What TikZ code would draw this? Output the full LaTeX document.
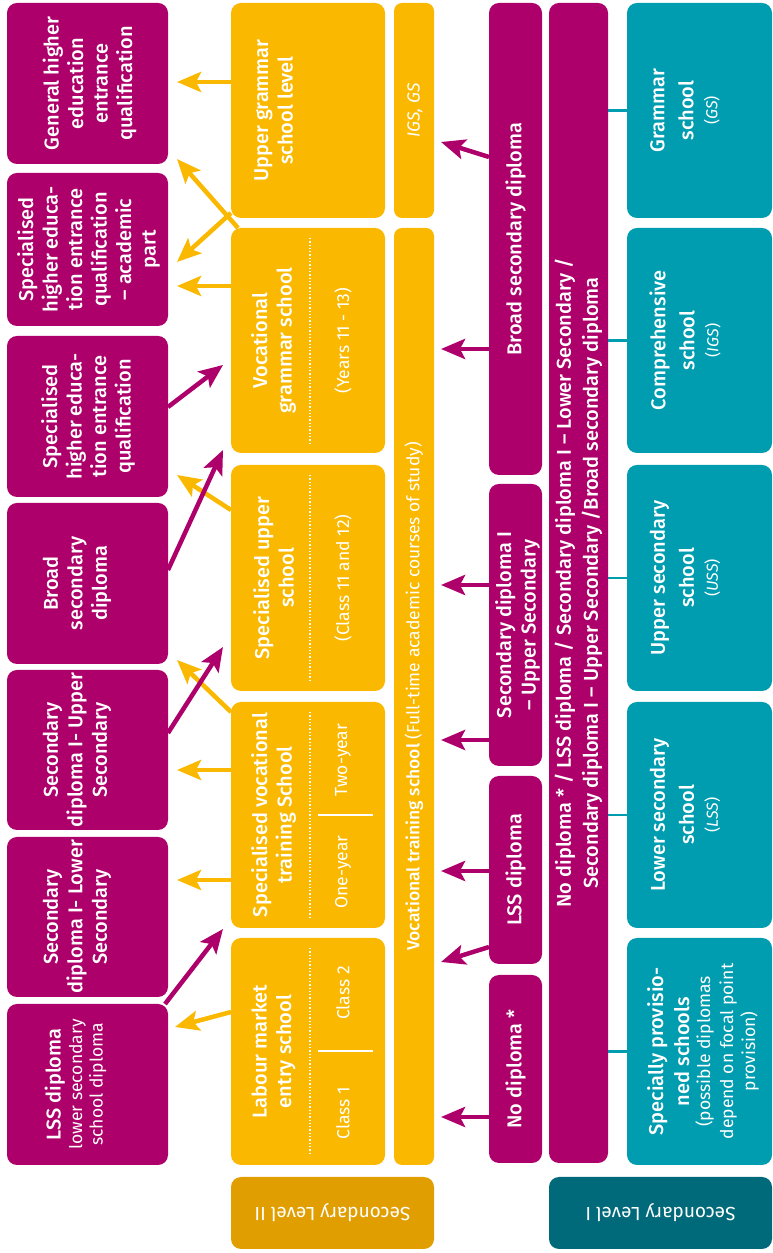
\documentclass[tikz,border=0pt]{standalone}
\usepackage{fontspec}
\setmainfont{Fira Sans}
\IfFontExistsTF{Fira Sans Medium}{\newfontfamily\medf{Fira Sans Medium}}{\newfontfamily\medf{Fira Sans}[FakeBold=1.2]}
\usetikzlibrary{arrows.meta,calc}
\definecolor{pur}{HTML}{AD006A}
\definecolor{yel}{HTML}{FAB900}
\definecolor{tea}{HTML}{009DB1}
\definecolor{dtea}{HTML}{00697A}
\definecolor{dyel}{HTML}{E19E00}
\begin{document}
\begin{tikzpicture}[x=1pt,y=1pt,
 box/.style={draw=none, rounded corners=10pt, inner sep=0pt, outer sep=0pt},
 pbox/.style={box, fill=pur},
 ybox/.style={box, fill=yel},
 tbox/.style={box, fill=tea},
 thinbox/.style={box, rounded corners=8pt},
 txt/.style={text=white, rotate=90, align=center, inner sep=0pt, font=\medf\fontsize{20}{24.5}\selectfont},
 sub/.style={text=white, rotate=90, align=center, inner sep=0pt, font=\rmfamily\fontsize{17.5}{21}\selectfont},
 foot/.style={text=white, rotate=180, inner sep=0pt, font=\rmfamily\fontsize{19}{22}\selectfont},
 tip/.style={-{Stealth[length=24pt,width=20pt,inset=5pt]}},
 parr/.style={draw=pur, line width=4.5pt, tip},
 yarr/.style={draw=yel, line width=4.5pt, tip},
 dotl/.style={white, line width=1.3pt, dotted},
 sepl/.style={white, line width=2pt},
 tlink/.style={draw=tea, line width=2.5pt},
]
\useasboundingbox (0,0) rectangle (773,1253);

% outcome boxes
\node[pbox,minimum width=161pt,minimum height=161pt] (o1) at (87.5,1169.5) {};
\node[pbox,minimum width=161pt,minimum height=153pt] (o2) at (87.5,1003.5) {};
\node[pbox,minimum width=161pt,minimum height=161pt] (o3) at (87.5,836.5) {};
\node[pbox,minimum width=161pt,minimum height=161pt] (o4) at (87.5,669.5) {};
\node[pbox,minimum width=161pt,minimum height=160pt] (o5) at (87.5,503) {};
\node[pbox,minimum width=161pt,minimum height=160pt] (o6) at (87.5,336) {};
\node[pbox,minimum width=161pt,minimum height=161pt] (o7) at (87.5,168.5) {};

% yellow school boxes
\node[ybox,minimum width=154pt,minimum height=215pt] (y1) at (308,1142.5) {};
\node[ybox,minimum width=154pt,minimum height=225pt] (y2) at (308,912.5) {};
\node[ybox,minimum width=154pt,minimum height=226pt] (y3) at (308,675) {};
\node[ybox,minimum width=154pt,minimum height=226pt] (y4) at (308,438) {};
\node[ybox,minimum width=154pt,minimum height=227pt] (y5) at (308,201.5) {};

% thin yellow column
\node[ybox,thinbox,minimum width=40pt,minimum height=215pt] (t1) at (414,1142.5) {};
\node[ybox,thinbox,minimum width=40pt,minimum height=937pt] (t2) at (414,556.5) {};

% diplomas
\node[pbox,minimum width=53pt,minimum height=472pt] (d1) at (515.5,1014) {};
\node[pbox,minimum width=53pt,minimum height=282pt] (d2) at (515.5,628) {};
\node[pbox,minimum width=53pt,minimum height=188pt] (d3) at (515.5,383) {};
\node[pbox,minimum width=53pt,minimum height=188pt] (d4) at (515.5,184) {};

% big column
\node[pbox,minimum width=59pt,minimum height=1160pt] (bg) at (578.5,670) {};

% teal boxes
\node[tbox,minimum width=145pt,minimum height=215pt] (s1) at (699.5,1142.5) {};
\node[tbox,minimum width=145pt,minimum height=225pt] (s2) at (699.5,912.5) {};
\node[tbox,minimum width=145pt,minimum height=226pt] (s3) at (699.5,675) {};
\node[tbox,minimum width=145pt,minimum height=226pt] (s4) at (699.5,438) {};
\node[tbox,minimum width=145pt,minimum height=227pt] (s5) at (699.5,201.5) {};

% footers
\node[box,fill=dyel,minimum width=203pt,minimum height=72pt] (f2) at (332.5,40) {};
\node[box,fill=dtea,minimum width=223pt,minimum height=72pt] (f1) at (660.5,40) {};

% teal links
\foreach \s in {s1,s2,s3,s4,s5}{\draw[tlink] (bg.east |- \s.west) -- (\s.west);}

% dotted dividers and separators
\foreach \y in {y2,y3,y4,y5}{\draw[dotl] ([xshift=2pt,yshift=-10pt]\y.north) -- ([xshift=2pt,yshift=10pt]\y.south);}
\draw[sepl] ([xshift=10pt]y4.center) -- ([xshift=65pt]y4.center);
\draw[sepl] ([xshift=10pt]y5.center) -- ([xshift=65pt]y5.center);

% texts: outcomes
\node[txt] (o1t) at ([xshift=2pt]o1.center) {General higher\\education\\entrance\\qualification};
\node[txt] (o2t) at ([xshift=1pt]o2.center) {Specialised\\higher educa-\\tion entrance\\qualification\\– academic\\part};
\node[txt] (o3t) at ([xshift=0.5pt]o3.center) {Specialised\\higher educa-\\tion entrance\\qualification};
\node[txt] (o4t) at ([xshift=-10.5pt]o4.center) {Broad\\secondary\\diploma};
\node[txt] (o5t) at ([xshift=-10.5pt]o5.center) {Secondary\\diploma I- Upper\\Secondary};
\node[txt] (o6t) at ([xshift=-10.5pt]o6.center) {Secondary\\diploma I- Lower\\Secondary};
\node[txt] (o7t) at ([xshift=-12pt]o7.center) {LSS diploma\\[-3pt]{\rmfamily\fontsize{17.5}{20}\selectfont lower secondary}\\[-4pt]{\rmfamily\fontsize{17.5}{20}\selectfont school diploma}};

% texts: yellow
\node[txt] (y1t) at ([xshift=-34.5pt]y1.center) {Upper grammar\\school level};
\node[txt] (y2t) at ([xshift=-34.5pt]y2.center) {Vocational\\grammar school};
\node[sub] (y2s) at ([xshift=35pt]y2.center) {(Years 11 - 13)};
\node[txt] (y3t) at ([xshift=-34.5pt]y3.center) {Specialised upper\\school};
\node[sub] (y3s) at ([xshift=35pt]y3.center) {(Class 11 and 12)};
\node[txt] (y4t) at ([xshift=-34.5pt]y4.center) {Specialised vocational\\training School};
\node[sub] (y4a) at ([xshift=35pt,yshift=55pt]y4.center) {Two-year};
\node[sub] (y4b) at ([xshift=35pt,yshift=-57pt]y4.center) {One-year};
\node[txt] (y5t) at ([xshift=-34.5pt]y5.center) {Labour market\\entry school};
\node[sub] (y5a) at ([xshift=35pt,yshift=58.5pt]y5.center) {Class 2};
\node[sub] (y5b) at ([xshift=35pt,yshift=-61.5pt]y5.center) {Class 1};

% thin column
\node[sub,font=\rmfamily\itshape\fontsize{17.5}{21}\selectfont] (t1t) at ([xshift=1pt]t1.center) {IGS, GS};
\node[sub] (t2t) at (t2.center) {{\medf Vocational training school} (Full-time academic courses of study)};

% diplomas
\node[txt] (d1t) at (d1.center) {Broad secondary diploma};
\node[txt] (d2t) at ([xshift=2pt]d2.center) {Secondary diploma I\\– Upper Secondary};
\node[txt] (d3t) at (d3.center) {LSS diploma};
\node[txt] (d4t) at (d4.center) {No diploma *};
\node[txt,font=\medf\fontsize{20}{27}\selectfont] (bgt) at (bg.center) {No diploma * / LSS diploma / Secondary diploma I – Lower Secondary /\\Secondary diploma I – Upper Secondary /Broad secondary diploma};

% teal texts
\node[txt,font=\medf\fontsize{20}{29}\selectfont] (s1t) at ([xshift=-14.5pt]s1.center) {Grammar\\school\\[-5pt]{\rmfamily\fontsize{16}{19}\selectfont(\textit{GS})}};
\node[txt,font=\medf\fontsize{20}{29}\selectfont] (s2t) at ([xshift=-14.5pt]s2.center) {Comprehensive\\school\\[-5pt]{\rmfamily\fontsize{16}{19}\selectfont(\textit{IGS})}};
\node[txt,font=\medf\fontsize{20}{29}\selectfont] (s3t) at ([xshift=-14.5pt]s3.center) {Upper secondary\\school\\[-5pt]{\rmfamily\fontsize{16}{19}\selectfont(\textit{USS})}};
\node[txt,font=\medf\fontsize{20}{29}\selectfont] (s4t) at ([xshift=-14.5pt]s4.center) {Lower secondary\\school\\[-5pt]{\rmfamily\fontsize{16}{19}\selectfont(\textit{LSS})}};
\node[txt,font=\medf\fontsize{20}{26}\selectfont] (s5t) at ([xshift=3.5pt]s5.center) {Specially provisio-\\ned schools\\[-5pt]{\rmfamily\fontsize{17.5}{21}\selectfont (possible diplomas}\\[-3pt]{\rmfamily\fontsize{17.5}{21}\selectfont depend on focal point}\\[-4pt]{\rmfamily\fontsize{17.5}{21}\selectfont provision)}};

% footers
\node[foot] (f2t) at (f2.center) {Secondary Level II};
\node[foot] (f1t) at (f1.center) {Secondary Level I};

% purple arrows: diplomas -> thin column
\draw[parr] ([yshift=82pt]d1.west) -- ([xshift=7pt,yshift=-31.5pt]t1.east);
\draw[parr] ([yshift=-110pt]d1.west) -- ([xshift=7pt,yshift=347.5pt]t2.east);
\draw[parr] ([yshift=40pt]d2.west) -- ([xshift=7pt,yshift=111.5pt]t2.east);
\draw[parr] ([yshift=-115pt]d2.west) -- ([xshift=7pt,yshift=-43.5pt]t2.east);
\draw[parr] ([yshift=-1pt]d3.west) -- ([xshift=7pt,yshift=-174.5pt]t2.east);
\draw[parr] ([yshift=-77pt]d3.west) -- ([xshift=7pt,yshift=-265.5pt]t2.east);
\draw[parr] ([yshift=-48pt]d4.west) -- ([xshift=7pt,yshift=-420.5pt]t2.east);

% yellow arrows: schools -> outcomes
\draw[yarr] ([yshift=28.5pt]y1.west) -- ([xshift=9pt,yshift=1.5pt]o1.east);
\draw[yarr] ([xshift=7pt]y2.north west) -- ([xshift=9pt,yshift=-75.5pt]o1.east);
\draw[yarr] ([yshift=-102.5pt]y1.west) -- ([xshift=9pt,yshift=-12.5pt]o2.east);
\draw[yarr] ([yshift=54.5pt]y2.west) -- ([xshift=9pt,yshift=-36.5pt]o2.east);
\draw[yarr] ([yshift=68pt]y3.west) -- ([xshift=9pt,yshift=-58.5pt]o3.east);
\draw[yarr] ([yshift=103pt]y4.west) -- ([xshift=9pt,yshift=-76.5pt]o4.east);
\draw[yarr] ([yshift=45pt]y4.west) -- ([xshift=9pt,yshift=-20pt]o5.east);
\draw[yarr] ([yshift=-65pt]y4.west) -- ([xshift=9pt,yshift=37pt]o6.east);
\draw[yarr] ([yshift=39.5pt]y5.west) -- ([xshift=7pt,yshift=57.5pt]o7.east);

% purple arrows: outcomes -> schools
\draw[parr] ([yshift=9.5pt]o3.east) -- ([xshift=-8pt,yshift=-24.5pt]y2.west);
\draw[parr] ([yshift=13.5pt]o4.east) -- ([xshift=-8pt,yshift=-109.5pt]y2.west);
\draw[parr] ([yshift=17pt]o5.east) -- ([xshift=-8pt,yshift=-69pt]y3.west);
\draw[parr] ([xshift=-3pt]o7.north east) -- ([xshift=-8pt,yshift=-114pt]y4.west);
\end{tikzpicture}
\end{document}
